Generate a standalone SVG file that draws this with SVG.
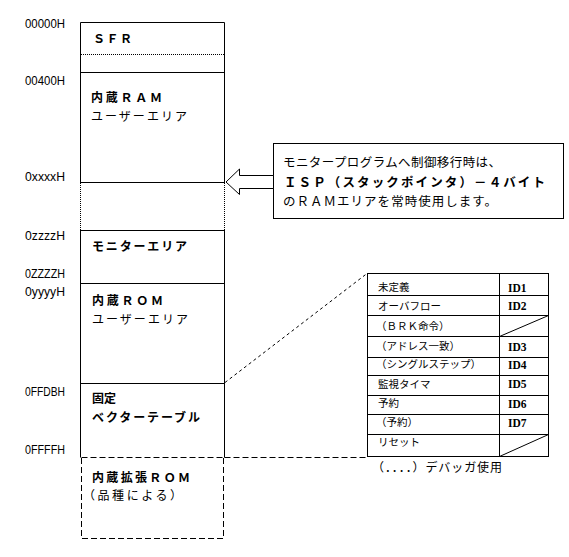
<svg xmlns="http://www.w3.org/2000/svg" width="569" height="557" viewBox="0 0 569 557">
<style>
.ln{stroke:#000;stroke-width:1;fill:none}
.dot{stroke:#000;stroke-width:1;stroke-dasharray:1 1;fill:none}
.dash{stroke:#000;stroke-width:1;stroke-dasharray:6 3;fill:none}
.fine{stroke:#000;stroke-width:1;stroke-dasharray:3 3;fill:none}
.addr{font-family:"Liberation Sans",Arial,sans-serif;font-size:12.5px;fill:#000}
.jb{font-family:"Noto Sans CJK JP","Noto Sans CJK SC",sans-serif;font-size:12px;font-weight:bold;fill:#000}
.jn{font-family:"Noto Sans CJK JP","Noto Sans CJK SC",sans-serif;font-size:12px;fill:#000}
.cb{font-family:"Noto Sans CJK JP","Noto Sans CJK SC",sans-serif;font-size:12.5px;font-weight:bold;fill:#000}
.cn{font-family:"Noto Sans CJK JP","Noto Sans CJK SC",sans-serif;font-size:12.5px;fill:#000}
.tb{font-family:"Noto Sans CJK JP","Noto Sans CJK SC",sans-serif;font-size:10.5px;fill:#000}
.id{font-family:"Liberation Serif","Times New Roman",serif;font-size:11.5px;font-weight:bold;fill:#000}
</style>
<rect width="569" height="557" fill="#fff"/>

<g id="addresses">
<text class="addr" x="25" y="28" textLength="40" lengthAdjust="spacingAndGlyphs">00000H</text>
<text class="addr" x="25" y="85" textLength="40" lengthAdjust="spacingAndGlyphs">00400H</text>
<text class="addr" x="25" y="181" textLength="40" lengthAdjust="spacingAndGlyphs">0xxxxH</text>
<text class="addr" x="25" y="240" textLength="40" lengthAdjust="spacingAndGlyphs">0zzzzH</text>
<text class="addr" x="25" y="278" textLength="40" lengthAdjust="spacingAndGlyphs">0ZZZZH</text>
<text class="addr" x="25" y="296" textLength="40" lengthAdjust="spacingAndGlyphs">0yyyyH</text>
<text class="addr" x="25" y="396" textLength="40" lengthAdjust="spacingAndGlyphs">0FFDBH</text>
<text class="addr" x="25" y="454" textLength="40" lengthAdjust="spacingAndGlyphs">0FFFFH</text>
</g>

<g id="sfr">
<path class="ln" d="M80.5,72.5 V22.5 H224.5 V72.5"/>
<line class="dot" x1="81" y1="54.5" x2="224" y2="54.5"/>
<text class="jb" x="93" y="43" textLength="39">ＳＦＲ</text>
</g>

<g id="ram">
<rect class="ln" x="80.5" y="72.5" width="144" height="110"/>
<text class="jb" x="91" y="102" textLength="71">内蔵ＲＡＭ</text>
<text class="jn" x="91" y="120.5" textLength="96">ユーザーエリア</text>
</g>

<g id="stack">
<line class="dot" x1="80.5" y1="183" x2="80.5" y2="230"/>
<line class="dot" x1="224.5" y1="183" x2="224.5" y2="230"/>
</g>

<g id="monitor">
<rect class="ln" x="80.5" y="230.5" width="144" height="53"/>
<text class="jb" x="92" y="251" textLength="95">モニターエリア</text>
</g>

<g id="rom">
<rect class="ln" x="80.5" y="283.5" width="144" height="100"/>
<text class="jb" x="92" y="305" textLength="71">内蔵ＲＯＭ</text>
<text class="jn" x="92" y="323.5" textLength="96">ユーザーエリア</text>
</g>

<g id="vector">
<path class="ln" d="M80.5,457.5 V383.5 H224.5 V457.5"/>
<text class="jb" x="92" y="403">固定</text>
<text class="jb" x="92" y="421.5" textLength="108">ベクターテーブル</text>
</g>

<g id="extrom">
<path class="dash" d="M81.5,457.5 H224.5 M81.5,458 V538.5 H223.5 V458"/>
<text class="jb" x="92" y="481.5" textLength="98">内蔵拡張ＲＯＭ</text>
<text class="jn" x="83" y="500" textLength="99">（品種による）</text>
</g>

<g id="callout">
<rect class="ln" x="273.5" y="143.5" width="290" height="75"/>
<text class="cn" x="283" y="167" textLength="218">モニタープログラムへ制御移行時は、</text>
<text class="cb" x="284" y="186.5" textLength="261">ＩＳＰ（スタックポインタ）－４バイト</text>
<text class="cn" x="283" y="205.5" textLength="214">のＲＡＭエリアを常時使用します。</text>
</g>

<g id="table">
<rect class="ln" x="367.5" y="273.5" width="181" height="183"/>
<line class="ln" x1="499.5" y1="273.5" x2="499.5" y2="456.5"/>
<path class="ln" d="M367.5,295.5 H548.5 M367.5,315.5 H548.5 M367.5,336.5 H548.5 M367.5,357.5 H548.5 M367.5,375.5 H548.5 M367.5,395.5 H548.5 M367.5,414.5 H548.5 M367.5,434.5 H548.5"/>
<line class="ln" x1="499.5" y1="336.5" x2="548.5" y2="315.5"/>
<line class="ln" x1="499.5" y1="456.5" x2="548.5" y2="434.5"/>
<text class="tb" x="378" y="291">未定義</text>
<text class="tb" x="378" y="310">オーバフロー</text>
<text class="tb" x="376" y="330">（ＢＲＫ命令）</text>
<text class="tb" x="376" y="350">（アドレス一致）</text>
<text class="tb" x="376" y="368">（シングルステップ）</text>
<text class="tb" x="378" y="388">監視タイマ</text>
<text class="tb" x="378" y="407">予約</text>
<text class="tb" x="376" y="426">（予約）</text>
<text class="tb" x="378" y="446">リセット</text>
<text class="id" x="508" y="291.5">ID1</text>
<text class="id" x="508" y="310">ID2</text>
<text class="id" x="508" y="351">ID3</text>
<text class="id" x="508" y="369">ID4</text>
<text class="id" x="508" y="388">ID5</text>
<text class="id" x="508" y="407.5">ID6</text>
<text class="id" x="508" y="427">ID7</text>
</g>

<g id="caption">
<text class="tb" x="372" y="472" style="font-size:12px" textLength="130">（．．．．）デバッガ使用</text>
</g>

<g id="connectors">
<polygon class="ln" points="273.5,175.5 239.5,175.5 239.5,169 226,182 239.5,194.5 239.5,188.5 273.5,188.5" style="fill:#fff"/>
<line class="fine" x1="225" y1="382.5" x2="367" y2="273.5"/>
<line class="dash" x1="224.5" y1="457.5" x2="367.5" y2="457.5"/>
</g>
</svg>
